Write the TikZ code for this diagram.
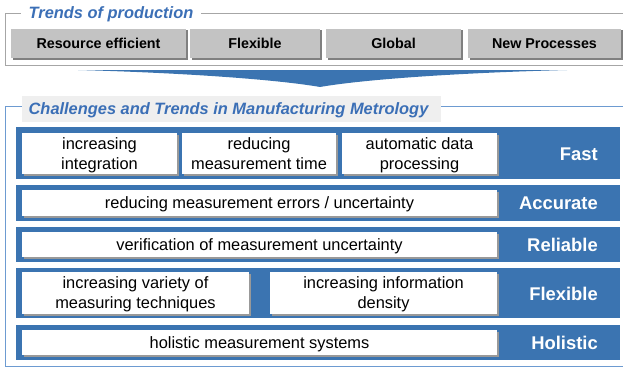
\documentclass[tikz,border=0pt]{standalone}
\usepackage{fontspec}
\setmainfont{Liberation Sans}
\usetikzlibrary{shadows}
\definecolor{bandblue}{HTML}{3B74B1}
\definecolor{titleblue}{HTML}{3B6FB6}
\definecolor{framegray}{HTML}{A6A6A6}
\definecolor{frameblue}{HTML}{6D9BD1}
\definecolor{chipgray}{HTML}{C3C3C3}
\definecolor{headbg}{HTML}{EFEFEF}
\begin{document}
\begin{tikzpicture}[x=1pt,y=-1pt,
  heading/.style={font=\fontsize{16.4}{19}\selectfont\bfseries\itshape,text=titleblue,inner ysep=0pt},
  trend/.style={fill=chipgray,minimum height=29pt,inner sep=0pt,
    font=\fontsize{14.3}{17}\selectfont\bfseries,
    drop shadow={fill=gray,opacity=1,shadow xshift=1.5pt,shadow yshift=-1.5pt}},
  band/.style={fill=bandblue,minimum width=604pt,inner sep=0pt},
  item/.style={fill=white,inner sep=0pt,align=center,text depth=0pt,
    font=\fontsize{16.4}{20}\selectfont,
    drop shadow={fill=gray!80,opacity=1,shadow xshift=1.5pt,shadow yshift=-1.5pt}},
  goal/.style={anchor=east,text=white,inner sep=0pt,font=\fontsize{18.4}{21}\selectfont\bfseries}]
\useasboundingbox (0,0) rectangle (623,369);

% trends of production
\draw[framegray] (640,13) -- (5,13) -- (5,65) -- (640,65);
\node[heading,fill=white,inner xsep=8pt] (prodtitle) at (111,14) {Trends of production};

\node[trend,minimum width=175pt] (resource) at (98.5,43.5) {Resource efficient};
\node[trend,minimum width=130pt] (flexprod) at (255,43.5) {Flexible};
\node[trend,minimum width=135pt] (global) at (393.5,43.5) {Global};
\node[trend,minimum width=153pt] (newproc) at (544.5,43.5) {New Processes};

% wedge
\fill[bandblue] (78,70) -- (567,70) .. controls (450,73) and (360,80) .. (320,87)
  .. controls (280,80) and (190,73) .. (78,70) -- cycle;

% challenges frame
\draw[frameblue] (640,106) -- (5,106) -- (5,366) -- (640,366);
\node[fill=headbg,minimum width=419pt,minimum height=26pt,inner sep=0pt] (headbox) at (231.5,109) {};
\node[heading] (metrotitle) at (228.5,110) {Challenges and Trends in Manufacturing Metrology};

% rows
\node[band,minimum height=52pt] (fastrow) at (318,153) {};
\node[band,minimum height=36pt] (accrow) at (318,203) {};
\node[band,minimum height=35pt] (relrow) at (318,244.5) {};
\node[band,minimum height=50pt] (flexrow) at (318,293) {};
\node[band,minimum height=35pt] (holrow) at (318,342) {};

\node[item,minimum width=155pt,minimum height=41pt] (integ) at (99.5,153.5) {increasing\\integration};
\node[item,minimum width=154pt,minimum height=41pt] (meastime) at (259,153.5) {reducing\\measurement time};
\node[item,minimum width=155pt,minimum height=41pt] (autodata) at (419.5,153.5) {automatic data\\processing};
\node[item,minimum width=475pt,minimum height=26pt] (errors) at (259.5,203) {reducing measurement errors / uncertainty};
\node[item,minimum width=475pt,minimum height=25pt] (verif) at (259.5,244.5) {verification of measurement uncertainty};
\node[item,minimum width=227pt,minimum height=42pt] (variety) at (135.5,293) {increasing variety of\\measuring techniques};
\node[item,minimum width=227pt,minimum height=42pt] (density) at (383.5,293) {increasing information\\density};
\node[item,minimum width=475pt,minimum height=25pt] (holsys) at (259.5,342.5) {holistic measurement systems};

\node[goal] (fast) at (598,154) {Fast};
\node[goal] (accurate) at (598,203) {Accurate};
\node[goal] (reliable) at (598,244.5) {Reliable};
\node[goal] (flexible) at (598,294) {Flexible};
\node[goal] (holistic) at (598,343) {Holistic};
\end{tikzpicture}
\end{document}
